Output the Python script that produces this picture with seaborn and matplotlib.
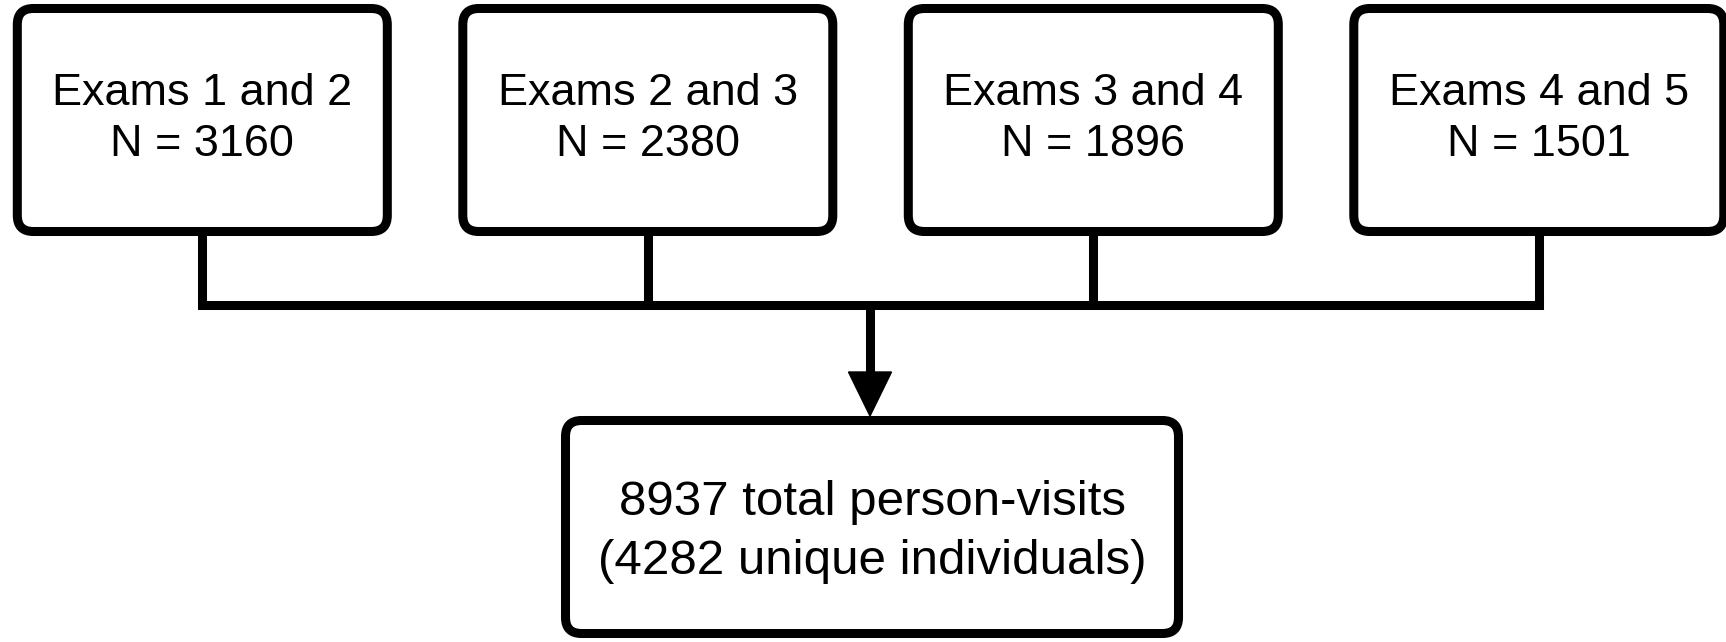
import matplotlib
matplotlib.use("Agg")
import matplotlib.pyplot as plt
from matplotlib.patches import FancyBboxPatch, Polygon
import seaborn as sns

# ---- data ----
exam_pairs = ["Exams 1 and 2", "Exams 2 and 3", "Exams 3 and 4", "Exams 4 and 5"]
pair_counts = [3160, 2380, 1896, 1501]
total_visits = 8937
unique_individuals = 4282

sns.set_theme(style="white")
plt.rcParams['font.family'] = ['Liberation Sans', 'DejaVu Sans']

W, H = 1726, 642
fig = plt.figure(figsize=(W / 100, H / 100), dpi=100)
ax = fig.add_axes([0, 0, 1, 1])
ax.set_xlim(0, W)
ax.set_ylim(H, 0)
ax.axis("off")

LW = 6.5  # ~9 px
# top boxes layout
box_w, box_h = 370, 223
top_y = 8.5
first_cx, spacing = 202.3, 445.5
join_y = 305

centers = []
for i, (label, n) in enumerate(zip(exam_pairs, pair_counts)):
    cx = first_cx + i * spacing
    centers.append(cx)
    ax.add_patch(FancyBboxPatch((cx - box_w / 2, top_y), box_w, box_h,
                                boxstyle="round,pad=0,rounding_size=16",
                                linewidth=LW, edgecolor="black", facecolor="white",
                                joinstyle="round"))
    ax.text(cx, top_y + box_h / 2 - 1, f"{label}\nN = {n}", ha="center", va="center",
            multialignment="center", fontsize=32.4, color="black", linespacing=1.3)
    ax.plot([cx, cx], [top_y + box_h, join_y], color="black", lw=LW,
            solid_capstyle="butt")

ax.plot([centers[0], centers[-1]], [join_y, join_y], color="black", lw=LW,
        solid_capstyle="projecting", solid_joinstyle="miter")

# bottom box
bx0, bx1 = 565.5, 1178.5
by0, by1 = 420.5, 633.5
mid_x = (bx0 + bx1) / 2 - 2
ax.plot([mid_x, mid_x], [join_y, 380], color="black", lw=LW, solid_capstyle="butt")
ax.add_patch(Polygon([[mid_x - 21.5, 372], [mid_x + 21.5, 372], [mid_x, 416]],
                     closed=True, facecolor="black", edgecolor="black", lw=1))

ax.add_patch(FancyBboxPatch((bx0, by0), bx1 - bx0, by1 - by0,
                            boxstyle="round,pad=0,rounding_size=16",
                            linewidth=LW, edgecolor="black", facecolor="white",
                            joinstyle="round"))
ax.text((bx0 + bx1) / 2, (by0 + by1) / 2 + 5,
        f"{total_visits} total person-visits\n({unique_individuals} unique individuals)",
        ha="center", va="center", multialignment="center", fontsize=35.5,
        color="black", linespacing=1.4)

fig.savefig("out.png", dpi=100, facecolor="white")
